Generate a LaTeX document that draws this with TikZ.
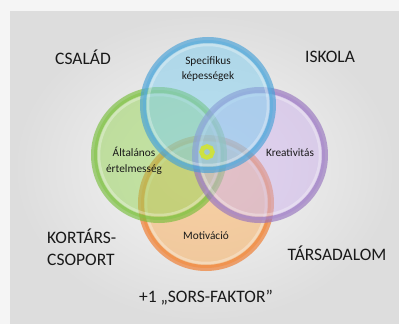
\documentclass[tikz,border=0pt]{standalone}
\usepackage{fontspec}
\setmainfont{Carlito}
\usetikzlibrary{positioning}
\definecolor{margin}{RGB}{245,245,245}
\definecolor{ink}{RGB}{25,25,25}
\definecolor{specring}{RGB}{70,160,215}
\definecolor{specfill}{RGB}{125,205,238}
\definecolor{altring}{RGB}{120,190,60}
\definecolor{altfill}{RGB}{150,212,85}
\definecolor{krearing}{RGB}{150,115,190}
\definecolor{kreafill}{RGB}{205,178,235}
\definecolor{motiring}{RGB}{240,120,40}
\definecolor{motifill}{RGB}{250,172,85}
\definecolor{corering}{RGB}{205,225,65}
\tikzstyle{venn} = [circle, inner sep=0pt, minimum size=130pt, line width=6pt, fill opacity=0.5, draw opacity=0.65]
\tikzstyle{gloss} = [circle, inner sep=0pt, minimum size=120pt, line width=2.5pt, draw=white, draw opacity=0.3]
\tikzstyle{venntxt} = [align=center, text=ink, inner sep=1pt, font=\fontsize{11.3}{15.5}\selectfont]
\tikzstyle{factor} = [align=left, text=ink, inner sep=1pt, font=\fontsize{17.5}{22}\selectfont]

\begin{document}
\begin{tikzpicture}[x=1pt, y=-1pt]
\useasboundingbox (0,0) rectangle (399,324);
\fill[margin] (0,0) rectangle (399,324);
\shade[inner color=gray!7, outer color=gray!27] (10,11) rectangle (399,324);

% Define nodes
\node[venn, fill=motifill, draw=motiring]   (moti) at (206,203) {};
\node[gloss] (motigloss) at (moti.center) {};
\node[venn, fill=altfill, draw=altring]     (alt)  at (159,155) {};
\node[gloss] (altgloss) at (alt.center) {};
\node[venn, fill=kreafill, draw=krearing]   (krea) at (260,155) {};
\node[gloss] (kreagloss) at (krea.center) {};
\node[venn, fill=specfill, draw=specring]   (spec) at (208,105) {};
\node[gloss] (specgloss) at (spec.center) {};
\node[circle, draw=corering, line width=4.5pt, minimum size=11pt, inner sep=0pt] (core) at (207,152) {};

\node[venntxt] (tspec) at (208,69)  {Specifikus\\képességek};
\node[venntxt] (talt)  at (134,161) {Általános\\értelmesség};
\node[venntxt] (tkrea) at (290,153) {Kreativitás};
\node[venntxt] (tmoti) at (206,236) {Motiváció};

% Factors around
\node[factor] (csalad)   at (83,57)  {CSALÁD};
\node[factor] (iskola)   at (330,57) {ISKOLA};
\node[factor, anchor=west] (kortars) at (46,247) {KORTÁRS-\\CSOPORT};
\node[factor] (tarsadalom) at (337,253) {TÁRSADALOM};
\node[factor] (sors)     at (206,298) {+1 „SORS-FAKTOR”};
\end{tikzpicture}
\end{document}
